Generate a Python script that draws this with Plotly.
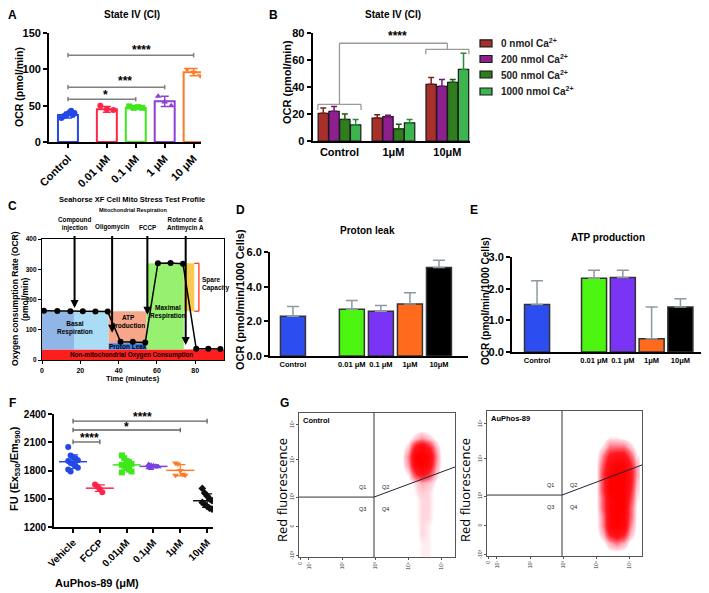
import plotly.graph_objects as go
import numpy as np

OFF = 8            # page body margin of the browser
FW, FH = 701, 585  # figure size so that the page fills the 709x593 window
FONT = "Arial, 'Liberation Sans', sans-serif"

def xd(a, b): return [(a - OFF) / FW, (b - OFF) / FW]
def yd(top, bot): return [1 - (bot - OFF) / FH, 1 - (top - OFF) / FH]
def PX(p): return (p - OFF) / FW
def PY(p): return 1 - (p - OFF) / FH

# ---------------- DATA ----------------
# Panel A
a_cats = ["Control", "0.01 μM", "0.1 μM", "1 μM", "10 μM"]
a_means = [37, 45, 47, 56, 96]
a_sd = [4, 4, 2, 7, 5]
a_points = [[33, 35, 36, 38, 39, 41, 43, 37, 40],
            [50, 45, 44],
            [49, 47, 48, 47],
            [63, 55, 50],
            [100, 96, 91]]
# Panel B
b_groups = ["Control", "1μM", "10μM"]
b_series = ["0 nmol Ca<sup>2+</sup>", "200 nmol Ca<sup>2+</sup>",
            "500 nmol Ca<sup>2+</sup>", "1000 nmol Ca<sup>2+</sup>"]
b_vals = [[20.5, 17, 42], [22, 18, 40.5], [16, 9, 43.5], [12, 13.5, 53]]
b_err = [[4, 2.5, 5], [3.5, 1, 5], [4, 3.5, 2], [4, 2.5, 12]]
# Panel C
c_time = [1, 8, 14.8, 21.3, 27.9, 34.3, 41, 47.4, 53.9, 60.5, 67.1, 73.6, 80.5, 86.8, 93.1]
c_ocr = [163, 162, 161, 161, 160, 160, 60, 60, 58, 320, 321, 318, 37, 37, 36]
c_inject_labels = ["Compound<br>injection", "Oligomycin", "FCCP", "Rotenone &<br>Antimycin A"]
c_inject_time = [17, 36.6, 55, 75]
c_arrow_tip = [172, 90, 150, 50]
c_phase_edges = [0, 17, 34.8, 54.5, 74, 79.5]
# Panels D, E
de_cats = ["Control", "0.01 μM", "0.1 μM", "1μM", "10μM"]
d_vals = [2.3, 2.7, 2.58, 3.0, 5.1]
d_err = [0.55, 0.5, 0.33, 0.65, 0.42]
e_vals = [1.5, 2.33, 2.35, 0.42, 1.42]
e_err = [0.75, 0.25, 0.23, 1.0, 0.26]
# Panel F
f_cats = ["Vehicle", "FCCP", "0.01μM", "0.1μM", "1μM", "10μM"]
f_points = [[2050, 1960, 1940, 1930, 1910, 1900, 1880, 1870, 1850, 1830, 1810, 1790],
            [1650, 1630, 1600, 1570],
            [1960, 1930, 1900, 1880, 1870, 1860, 1850, 1830, 1810, 1790, 1780],
            [1865, 1855, 1850, 1845, 1840, 1830, 1820],
            [1880, 1870, 1800, 1760, 1750, 1750],
            [1610, 1560, 1530, 1500, 1480, 1460, 1440, 1420, 1400, 1390]]
# Panel G (approximate event density, log10 units)
g_x = [3.8, 4.0, 4.2, 4.4, 4.6, 4.8, 5.0, 5.2]
g_y = [0.125, 0.375, 0.625, 0.875, 1.125, 1.375, 1.625, 1.875, 2.125, 2.375,
       2.625, 2.875, 3.125, 3.375, 3.625]
g_ctrl = [[0, 0, 0.3, 0.8, 0.8, 0.3, 0, 0],
          [0, 0, 0.3, 0.8, 0.8, 0.3, 0, 0],
          [0, 0, 0.5, 1, 0.8, 0.3, 0, 0],
          [0, 0, 0.5, 1, 0.8, 0.3, 0, 0],
          [0, 0, 0.6, 1, 1, 0.5, 0, 0],
          [0, 0, 0.6, 1, 1, 0.5, 0, 0],
          [0, 0, 0.6, 1, 1, 0.5, 0, 0],
          [0, 0.2, 0.8, 1.3, 1, 0.5, 0, 0],
          [0, 0.3, 1, 2, 1.5, 0.6, 0, 0],
          [0, 1, 5, 7, 5, 1.5, 0.2, 0],
          [0.3, 2.5, 9, 10, 8, 2.5, 0.3, 0],
          [0.3, 3, 10, 10, 9, 3, 0.3, 0],
          [0.2, 1.5, 7, 9, 6, 2, 0.2, 0],
          [0, 0.3, 1.5, 2.5, 1.5, 0.5, 0, 0],
          [0, 0, 0.2, 0.4, 0.2, 0, 0, 0]]
g_aup = [[0, 0, 0, 0.4, 0.5, 0.3, 0, 0],
         [0, 0, 0.4, 2, 3, 2, 0.4, 0],
         [0, 0.2, 2, 6, 8, 6, 2, 0.2],
         [0, 0.4, 3, 9, 10, 9, 3, 0.4],
         [0, 0.4, 3, 9, 10, 9, 4, 0.4],
         [0, 0.6, 4, 9, 10, 10, 4, 0.5],
         [0, 0.6, 4, 9, 10, 10, 5, 0.8],
         [0, 0.6, 5, 10, 10, 10, 6, 1],
         [0, 0.6, 5, 10, 10, 10, 7, 1.5],
         [0, 0.6, 5, 9, 10, 10, 7, 2],
         [0, 0.6, 4, 8, 9, 9, 6, 1.5],
         [0, 0.3, 3, 6, 7, 7, 4, 0.8],
         [0, 0.2, 1, 3, 3, 3, 1.5, 0.2],
         [0, 0, 0.2, 0.8, 0.8, 0.4, 0.2, 0],
         [0, 0, 0, 0.2, 0.2, 0, 0, 0]]

# ---------------- STYLE ----------------
a_pos = [0, 1.345, 2.345, 3.345, 4.345]
a_colors = ["#2448e8", "#ff2448", "#3ee81c", "#8c40d8", "#ff7a26"]
a_symbols = ["circle", "circle", "square", "triangle-up", "triangle-down"]
b_colors = ["#a8302a", "#8e1f8e", "#2f7d1f", "#3db54e"]
b_ecolors = ["#7a1f1a", "#701570", "#1f5a14", "#268a3a"]
de_colors = ["#2c4ef0", "#4cf510", "#7a34f5", "#ff6a1c", "#000000"]
d_pos = [0, 2.03, 3.03, 4.03, 5.03]
e_pos = [0, 1.98, 2.98, 3.98, 4.98]
f_colors = ["#2448e8", "#ff2448", "#3ee81c", "#7a40e0", "#ff7a26", "#111111"]
f_symbols = ["circle", "circle", "square", "triangle-up", "triangle-down", "diamond"]

fig = go.Figure()

# ---- A
for i in range(5):
    fig.add_bar(x=[a_pos[i]], y=[a_means[i]], width=0.69, offsetgroup="a", xaxis="x", yaxis="y",
                marker=dict(color="white", line=dict(color=a_colors[i], width=2)),
                error_y=dict(type="data", array=[a_sd[i]], color=a_colors[i], thickness=1.5, width=4),
                showlegend=False, hoverinfo="skip")
    n = len(a_points[i])
    off = (np.arange(n) - (n - 1) / 2) * (0.45 / max(n - 1, 1))
    fig.add_scatter(x=np.array([a_pos[i]] * n) + off, y=a_points[i], mode="markers",
                    xaxis="x", yaxis="y", showlegend=False, hoverinfo="skip",
                    marker=dict(color=a_colors[i], size=6, symbol=a_symbols[i]))

# ---- B
for i in range(4):
    fig.add_bar(x=b_groups, y=b_vals[i], name=b_series[i], xaxis="x2", yaxis="y2",
                marker=dict(color=b_colors[i], line=dict(color="#1a1a1a", width=1.2)),
                error_y=dict(type="data", array=b_err[i], arrayminus=[0] * 3, symmetric=False,
                             color=b_ecolors[i], thickness=1.5, width=3),
                showlegend=False, hoverinfo="skip")

# ---- C
fig.add_scatter(x=c_time, y=c_ocr, mode="lines+markers", xaxis="x3", yaxis="y3",
                line=dict(color="black", width=1.5), marker=dict(color="black", size=6),
                showlegend=False, hoverinfo="skip")

# ---- D, E
fig.add_bar(x=d_pos, y=d_vals, width=0.86, xaxis="x4", yaxis="y4",
            marker=dict(color=de_colors, line=dict(color="#333", width=1.5)),
            error_y=dict(type="data", array=d_err, arrayminus=[0] * 5, symmetric=False,
                         color="#8a9aa0", thickness=1.5, width=6),
            showlegend=False, hoverinfo="skip")
fig.add_bar(x=e_pos, y=e_vals, width=0.87, xaxis="x5", yaxis="y5",
            marker=dict(color=de_colors, line=dict(color="#333", width=1.5)),
            error_y=dict(type="data", array=e_err, arrayminus=[0] * 5, symmetric=False,
                         color="#8a9aa0", thickness=1.5, width=6),
            showlegend=False, hoverinfo="skip")

# ---- F
for i, pts in enumerate(f_points):
    n = len(pts)
    off = (np.arange(n) % 5 - 2) * 0.09
    fig.add_scatter(x=i + off, y=pts, mode="markers", xaxis="x6", yaxis="y6",
                    marker=dict(color=f_colors[i], size=6, symbol=f_symbols[i]),
                    showlegend=False, hoverinfo="skip")
    fig.add_scatter(x=[i], y=[float(np.mean(pts))], mode="markers", xaxis="x6", yaxis="y6",
                    marker=dict(symbol="line-ew", size=20, color=f_colors[i],
                                line=dict(color=f_colors[i], width=1.5)),
                    error_y=dict(type="data", array=[float(np.std(pts, ddof=1))],
                                 color=f_colors[i], thickness=1.2, width=5),
                    showlegend=False, hoverinfo="skip")

# ---- G
g_scale = [[0, "rgba(255,255,255,0)"], [0.06, "rgba(255,170,185,0.0)"],
           [0.1, "rgba(255,140,160,0.35)"], [0.3, "rgba(255,60,80,0.75)"],
           [0.55, "rgb(255,25,35)"], [1, "rgb(255,0,0)"]]
fig.add_heatmap(x=g_x, y=g_y, z=g_ctrl, xaxis="x7", yaxis="y7", zsmooth="best", zmin=0, zmax=10,
                colorscale=g_scale, showscale=False, hoverinfo="skip")
fig.add_heatmap(x=g_x, y=g_y, z=g_aup, xaxis="x8", yaxis="y8", zsmooth="best", zmin=0, zmax=10,
                colorscale=g_scale, showscale=False, hoverinfo="skip")


def ax(**kw):
    base = dict(showgrid=False, zeroline=False, showline=True, linecolor="black", linewidth=1.8,
                ticks="outside", tickcolor="black", tickwidth=1.5, ticklen=4, automargin=False,
                tickfont=dict(family=FONT, size=10, color="black", weight="bold"), fixedrange=True)
    base.update(kw)
    return base


def tf(size, color="black", weight="bold"):
    return dict(family=FONT, size=size, color=color, weight=weight)


g_xt = [0.75, 1, 2, 3, 4, 5]
g_xl = ["0", "10¹", "10²", "10³", "10⁴", "10⁵"]
g_yt = [0.03, 0.86, 1.71, 2.77, 3.77]
g_yl = ["-10³", "0", "10³", "10⁴", "10⁵"]
gstyle = dict(linecolor="#555", linewidth=1, mirror=True, ticks="outside", ticklen=2, tickwidth=0.8,
              tickcolor="#555", tickangle=-90, tickfont=tf(5, "#333", "normal"), automargin=False,
              showgrid=False, zeroline=False, showline=True, fixedrange=True)

layout_axes = dict(
    xaxis=ax(domain=xd(49, 201), anchor="y", range=[-0.655, 4.6], tickvals=a_pos, ticktext=a_cats,
             tickangle=-45, tickfont=tf(11)),
    yaxis=ax(domain=yd(33, 142), anchor="x", range=[0, 150], tickvals=[0, 50, 100, 150], tickfont=tf(11)),
    xaxis2=ax(domain=xd(312.5, 470), anchor="y2", type="category", range=[-0.5, 2.42], ticks="",
              tickfont=tf(11)),
    yaxis2=ax(domain=yd(33, 141), anchor="x2", range=[0, 80], tickvals=[0, 20, 40, 60, 80], tickfont=tf(11)),
    xaxis3=ax(domain=xd(42, 224), anchor="y3", range=[0, 95], tickvals=[0, 20, 40, 60, 80],
              tickfont=tf(7), mirror=True, linewidth=1.2, ticklen=3, tickwidth=1),
    yaxis3=ax(domain=yd(239, 360), anchor="x3", range=[0, 400], tickvals=[0, 100, 200, 300, 400],
              tickfont=tf(6.5), mirror=True, linewidth=1.2, ticklen=3, tickwidth=1),
    xaxis4=ax(domain=xd(270, 468), anchor="y4", range=[-0.79, 6.03], tickvals=d_pos, ticktext=de_cats,
              ticks="", tickfont=tf(7.5)),
    yaxis4=ax(domain=yd(252, 356), anchor="x4", range=[0, 6], tickvals=[0, 2, 4, 6], tickformat=".1f",
              tickfont=tf(11)),
    xaxis5=ax(domain=xd(512, 704), anchor="y5", range=[-0.87, 5.8], tickvals=e_pos, ticktext=de_cats,
              ticks="", tickfont=tf(7.5)),
    yaxis5=ax(domain=yd(257, 352), anchor="x5", range=[0, 3], tickvals=[0, 1, 2, 3], tickformat=".1f",
              tickfont=tf(11)),
    xaxis6=ax(domain=xd(54, 213), anchor="y6", range=[-0.71, 5.22], tickvals=list(range(6)),
              ticktext=f_cats, tickangle=-45, tickfont=tf(10)),
    yaxis6=ax(domain=yd(414, 527), anchor="x6", range=[1200, 2400],
              tickvals=[1200, 1500, 1800, 2100, 2400], tickfont=tf(10)),
    xaxis7=dict(domain=xd(299, 455), anchor="y7", range=[0.7, 5.4], tickvals=g_xt, ticktext=g_xl, **gstyle),
    yaxis7=dict(domain=yd(413, 557), anchor="x7", range=[0, 4.11], tickvals=g_yt, ticktext=g_yl, **gstyle),
    xaxis8=dict(domain=xd(487, 642), anchor="y8", range=[0.7, 5.37], tickvals=g_xt, ticktext=g_xl, **gstyle),
    yaxis8=dict(domain=yd(411, 556), anchor="x8", range=[0, 4.14], tickvals=g_yt, ticktext=g_yl, **gstyle),
)

shapes = []
ann = []


def line(x0, y0, x1, y1, xr, yr, color, width=1.5, layer="above"):
    shapes.append(dict(type="line", x0=x0, y0=y0, x1=x1, y1=y1, xref=xr, yref=yr,
                       line=dict(color=color, width=width), layer=layer))


def text(x, y, s, size, xr="paper", yr="paper", color="black", weight="bold", angle=0,
         xanchor="center", yanchor="middle", family=FONT, align="center"):
    ann.append(dict(x=x, y=y, xref=xr, yref=yr, text=s, showarrow=False, textangle=angle,
                    xanchor=xanchor, yanchor=yanchor, align=align,
                    font=dict(family=family, size=size, color=color, weight=weight)))


# ---- significance bars A
for (xe, yv, stars, sx, sy) in [(a_pos[4], 119.5, "****", 2.55, 127),
                                (a_pos[3], 75.5, "***", 1.97, 84),
                                (a_pos[2], 59, "*", 1.31, 64)]:
    line(a_pos[0], yv, xe, yv, "x", "y", "#808080", 1.5)
    line(a_pos[0], yv - 3, a_pos[0], yv + 3, "x", "y", "#808080", 1.5)
    line(xe, yv - 3, xe, yv + 3, "x", "y", "#808080", 1.5)
    text(sx, sy, stars, 12, "x", "y")

# ---- brackets B
bc = "#9a9a9a"
line(-0.4, 27.2, 0.4, 27.2, "x2", "y2", bc, 1.3)
line(-0.4, 27.2, -0.4, 23, "x2", "y2", bc, 1.3)
line(0.4, 27.2, 0.4, 23, "x2", "y2", bc, 1.3)
line(0, 27.2, 0, 72.4, "x2", "y2", bc, 1.3)
line(1.6, 67.9, 2.4, 67.9, "x2", "y2", bc, 1.3)
line(1.6, 67.9, 1.6, 64.2, "x2", "y2", bc, 1.3)
line(2.4, 67.9, 2.4, 64.2, "x2", "y2", bc, 1.3)
line(2, 67.9, 2, 72.4, "x2", "y2", bc, 1.3)
line(0, 72.4, 2, 72.4, "x2", "y2", bc, 1.3)
text(1.07, 77.5, "****", 12, "x2", "y2")

# ---- B legend (drawn by hand for exact spacing)
leg_rows = [43.3, 59, 74.5, 91.5]
for i, (lab, yrow) in enumerate(zip(b_series, leg_rows)):
    shapes.append(dict(type="rect", xref="paper", yref="paper", x0=PX(480), x1=PX(492),
                       y0=PY(yrow + 3.5), y1=PY(yrow - 3.5), fillcolor=b_colors[i],
                       line=dict(color="#1a1a1a", width=1.2)))
    text(PX(499), PY(yrow), lab, 10, xanchor="left", color="#222")

# ---- C regions
non_mito = float(np.mean(c_ocr[-3:]))
basal = float(np.mean(c_ocr[:6]))
leak = float(np.mean(c_ocr[6:9]))
maxr = float(np.mean(c_ocr[9:12]))
e = c_phase_edges


def rect(x0, x1, y0, y1, color):
    shapes.append(dict(type="rect", x0=x0, x1=x1, y0=y0, y1=y1, xref="x3", yref="y3",
                       fillcolor=color, line=dict(width=0), layer="below"))


rect(0, 95, 0, non_mito - 2, "#ff1e1e")
rect(e[0], e[1], non_mito - 2, basal, "#8fb6e6")
rect(e[1], e[2], non_mito - 2, basal, "#aadcf6")
rect(e[2], e[3], leak - 4, basal, "#f6a78a")
rect(e[2], e[3], non_mito - 2, leak - 4, "#3f7fe6")
rect(e[3], e[4], non_mito - 2, maxr, "#98f070")
rect(e[4], e[5], basal, maxr, "#f6cc50")
sc = "#ff3a1a"
line(e[5], maxr, e[5] + 2.4, maxr, "x3", "y3", sc, 1.3)
line(e[5] + 2.4, maxr, e[5] + 2.4, basal, "x3", "y3", sc, 1.3)
line(e[5], basal, e[5] + 2.4, basal, "x3", "y3", sc, 1.3)

text(17, 106, "Basal<br>Respiration", 6.5, "x3", "y3")
text(45, 127, "ATP<br>Production", 6.5, "x3", "y3")
text(45, 43, "Proton Leak", 6.5, "x3", "y3")
text(66, 158, "Maximal<br>Respiration", 6.5, "x3", "y3")
text(82.3, 251, "Spare<br>Capacity", 6.5, "x3", "y3", xanchor="left", align="left")
text(46.7, 17, "Non-mitochondrial Oxygen Consumption", 6.3, "x3", "y3")

for t, lab, tip in zip(c_inject_time, c_inject_labels, c_arrow_tip):
    ann.append(dict(x=t, y=tip, xref="x3", yref="y3", ax=t, ay=415, axref="x3", ayref="y3",
                    text="", showarrow=True, arrowhead=2, arrowsize=0.8, arrowwidth=2, arrowcolor="black"))
    nl = lab.count("<br>")
    text(PX(42 + t * 182 / 95), PY(227 if nl == 0 else 224), lab, 6.3)

# ---- F significance
fc = "#606060"
for (xe, yv, stars, sx, sy) in [(1, 2103, "****", 0.62, 2150),
                                (4, 2230, "*", 2.0, 2262),
                                (5, 2325, "****", 2.6, 2372)]:
    line(0, yv, xe, yv, "x6", "y6", fc, 1.3)
    line(0, yv - 25, 0, yv + 25, "x6", "y6", fc, 1.3)
    line(xe, yv - 25, xe, yv + 25, "x6", "y6", fc, 1.3)
    text(sx, sy, stars, 12, "x6", "y6")

# ---- G gates
for xr, yr, xmax, yh, yend in [("x7", "y7", 5.4, 1.71, 2.57), ("x8", "y8", 5.37, 1.74, 2.6)]:
    line(2.96, 0, 2.96, 4.2, xr, yr, "#333", 1)
    line(0.7, yh, 2.96, yh, xr, yr, "#333", 1)
    line(2.96, yh, xmax, yend, xr, yr, "#223", 1)
    text(2.6, yh + 0.3, "Q1", 5.5, xr, yr, "#222", "normal")
    text(3.32, yh + 0.3, "Q2", 5.5, xr, yr, "#222", "normal")
    text(2.6, yh - 0.35, "Q3", 5.5, xr, yr, "#222", "normal")
    text(3.32, yh - 0.35, "Q4", 5.5, xr, yr, "#222", "normal")
text(PX(301), PY(420), "Control", 7.5, xanchor="left")
text(PX(489), PY(418), "AuPhos-89", 7.5, xanchor="left")
text(PX(282), PY(490), "Red fluorescence", 13, weight="normal", angle=-90, family="'Open Sans', sans-serif")
text(PX(465), PY(490), "Red fluorescence", 13, weight="normal", angle=-90, family="'Open Sans', sans-serif")

# ---- titles / labels
text(PX(12), PY(15), "A", 12)
text(PX(273), PY(15), "B", 12)
text(PX(12), PY(206), "C", 12)
text(PX(240), PY(210), "D", 12)
text(PX(474), PY(210), "E", 12)
text(PX(12), PY(403), "F", 12)
text(PX(284), PY(403), "G", 12)

text(PX(132), PY(15), "State IV (CI)", 10)
text(PX(393), PY(15), "State IV (CI)", 10)
text(PX(19), PY(87), "OCR (pmol/min)", 10.5, angle=-90)
text(PX(287), PY(82), "OCR (pmol/min)", 11, angle=-90)

text(PX(132), PY(200), "Seahorse XF Cell Mito Stress Test Profile", 7.5)
text(PX(133), PY(209.5), "Mitochondrial Respiration", 5.5)
text(PX(15), PY(299), "Oxygen consumption Rate (OCR)", 8.5, angle=-90)
text(PX(25), PY(299), "(pmol/min)", 8.5, angle=-90)
text(PX(133), PY(378.5), "Time (minutes)", 7.5)

text(PX(367), PY(230), "Proton leak", 10)
text(PX(608), PY(238), "ATP production", 10)
text(PX(240), PY(300), "OCR (pmol/min/1000 Cells)", 11, angle=-90)
text(PX(485), PY(301), "OCR (pmol/min/1000 Cells)", 10, angle=-90)

text(PX(15), PY(469), "FU (Ex<sub>530</sub>/Em<sub>590</sub>)", 11, angle=-90)
text(PX(97), PY(583), "AuPhos-89 (μM)", 11)

fig.update_layout(
    width=FW, height=FH, autosize=False, margin=dict(l=0, r=0, t=0, b=0, autoexpand=False),
    paper_bgcolor="white", plot_bgcolor="white",
    barmode="group", bargap=0.2, bargroupgap=0.04, showlegend=False,
    font=dict(family=FONT, color="black"),
    shapes=shapes, annotations=ann, **layout_axes)

fig.write_html("out.html")
